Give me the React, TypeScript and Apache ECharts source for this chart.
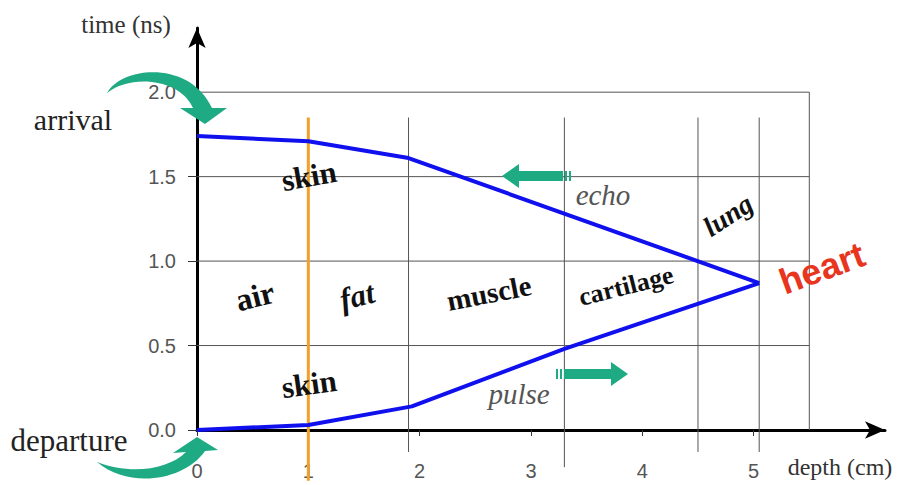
import React, { useEffect, useRef } from "react";
import * as echarts from "echarts";

// Axis ticks
const depthTicks = [0, 1, 2, 3, 4, 5];
const timeTicks = [0, 0.5, 1.0, 1.5, 2.0];

// Tissue boundaries (cm) drawn as vertical rules, and the right edge of the box
const layerBounds = [1.9, 3.3, 4.5, 5.05];
const boxEdge = 5.5;
const skinDepth = 1;

// Round trip of the ultrasound pulse: outgoing pulse and returning echo
const pulseDepth = [0, 1, 1.93, 3.3, 5.05];
const pulseTime = [0, 0.03, 0.14, 0.48, 0.87];
const echoDepth = [0, 1, 1.9, 5.05];
const echoTime = [1.74, 1.71, 1.61, 0.87];

const SERIF = "Liberation Serif";
const SANS = "Liberation Sans";
const GREEN = "#1eaa82";

echarts.graphic.registerShape(
  "arrivalArrow",
  echarts.graphic.extendPath(
    "M107 93 C122 66 190 60 212 108 L227 108 L205 124 L180 108 L193 108 C180 78 130 74 107 93 Z",
    {}
  )
);
echarts.graphic.registerShape(
  "departureArrow",
  echarts.graphic.extendPath(
    "M97 462 C130 490 185 480 205 451 L218 450 L197 437 L173 453 L186 452 C168 470 130 475 97 462 Z",
    {}
  )
);

const zip = (xs: number[], ys: number[]) => xs.map((x, i) => [x, ys[i]]);

function label(text: string, x: number, y: number, deg: number, style: any) {
  return {
    type: "text",
    x,
    y,
    rotation: (deg * Math.PI) / 180,
    z: 20,
    style: {
      text,
      fill: "#111",
      fontFamily: SERIF,
      fontSize: 24,
      fontWeight: "bold",
      textAlign: "center",
      textVerticalAlign: "middle",
      ...style,
    },
  };
}

export default function App() {
  const ref = useRef<HTMLDivElement>(null);

  useEffect(() => {
    if (!ref.current) return;
    const chart = echarts.init(ref.current, undefined, { renderer: "svg" });

    const staticGraphics: any[] = [
      label("time (ns)", 126, 24, 0, { fontSize: 25, fontWeight: "normal", fill: "#333" }),
      label("arrival", 73, 119, 0, { fontSize: 30, fontWeight: "normal", fill: "#222" }),
      label("departure", 69, 440, 0, { fontSize: 31, fontWeight: "normal", fill: "#222" }),
      label("depth (cm)", 840, 467, 0, { fontSize: 24, fontWeight: "normal", fill: "#333" }),
      { type: "arrivalArrow", x: 0, y: 0, z: 30, style: { fill: GREEN } },
      { type: "departureArrow", x: 0, y: 0, z: 30, style: { fill: GREEN } },
      // echo arrow, heading back toward the surface
      {
        type: "polygon",
        z: 25,
        shape: { points: [[502, 176], [519, 164], [519, 171], [563, 171], [563, 181], [519, 181], [519, 188]] },
        style: { fill: GREEN },
      },
      { type: "rect", z: 25, shape: { x: 565, y: 171, width: 2, height: 10 }, style: { fill: GREEN } },
      { type: "rect", z: 25, shape: { x: 569, y: 171, width: 2, height: 10 }, style: { fill: GREEN } },
      // pulse arrow, heading into the body
      {
        type: "polygon",
        z: 25,
        shape: { points: [[628, 374], [611, 362], [611, 369], [564, 369], [564, 379], [611, 379], [611, 386]] },
        style: { fill: GREEN },
      },
      { type: "rect", z: 25, shape: { x: 556, y: 369, width: 2, height: 10 }, style: { fill: GREEN } },
      { type: "rect", z: 25, shape: { x: 560, y: 369, width: 2, height: 10 }, style: { fill: GREEN } },
      label("echo", 603, 195, 0, { fontSize: 29, fontWeight: "normal", fontStyle: "italic", fill: "#555" }),
      label("pulse", 519, 394, 0, { fontSize: 29, fontWeight: "normal", fontStyle: "italic", fill: "#555" }),
      label("skin", 309, 176, 10, { fontSize: 31 }),
      label("skin", 309, 384, 8, { fontSize: 31 }),
      label("air", 255, 296, 14, { fontSize: 32 }),
      label("fat", 357, 296, 14, { fontSize: 31, fontStyle: "italic" }),
      label("muscle", 489, 293, 11, { fontSize: 29 }),
      label("cartilage", 626, 286, 14, { fontSize: 26 }),
      label("lung", 728, 215, 33, { fontSize: 28, fontStyle: "italic" }),
      label("heart", 822, 268, 20, {
        fontFamily: SANS,
        fontSize: 36,
        fill: "#e8351e",
        textShadowColor: "#a01a0a",
        textShadowOffsetX: 1,
        textShadowOffsetY: 1,
        textShadowBlur: 0,
      }),
    ];

    chart.setOption({
      animation: false,
      backgroundColor: "#ffffff",
      grid: { left: 197, right: 14, top: 28, bottom: 55 },
      xAxis: {
        type: "value",
        min: 0,
        max: 6.18,
        interval: 1,
        splitLine: { show: false },
        axisLine: {
          lineStyle: { color: "#000", width: 3 },
          symbol: ["none", "arrow"],
          symbolSize: [13, 20],
        },
        axisTick: { show: true, length: 6, lineStyle: { color: "#333" }, customValues: depthTicks },
        axisLabel: {
          customValues: depthTicks,
          margin: 31,
          color: "#555",
          fontFamily: SANS,
          fontSize: 20,
        },
      },
      yAxis: {
        type: "value",
        min: 0,
        max: 2.38,
        interval: 0.5,
        splitLine: { show: false },
        axisLine: {
          lineStyle: { color: "#000", width: 3 },
          symbol: ["none", "arrow"],
          symbolSize: [13, 20],
        },
        axisTick: { show: true, length: 9, lineStyle: { color: "#333" }, customValues: timeTicks },
        axisLabel: {
          customValues: timeTicks,
          margin: 21,
          color: "#555",
          fontFamily: SANS,
          fontSize: 20,
          formatter: (v: number) => v.toFixed(1),
        },
      },
      series: [
        {
          name: "echo",
          type: "line",
          data: zip(echoDepth, echoTime),
          showSymbol: false,
          lineStyle: { color: "#1010ee", width: 4 },
          z: 5,
        },
        {
          name: "pulse",
          type: "line",
          data: zip(pulseDepth, pulseTime),
          showSymbol: false,
          lineStyle: { color: "#1010ee", width: 4 },
          z: 5,
        },
      ],
      graphic: staticGraphics,
    });

    // Rules drawn through the axes' own scales; some run past the plot edges
    const px = (d: number, t: number) => chart.convertToPixel({ gridIndex: 0 }, [d, t]) as number[];
    const rule = (a: number[], b: number[], stroke: string, lineWidth: number) => ({
      type: "line",
      z: 1,
      shape: { x1: a[0], y1: a[1], x2: b[0], y2: b[1] },
      style: { stroke, lineWidth },
    });
    const rules: any[] = [];
    timeTicks.forEach((t) => {
      if (t > 0) rules.push(rule(px(0, t), px(boxEdge, t), "#555", 1));
    });
    rules.push(rule(px(boxEdge, 2.0), px(boxEdge, 0), "#555", 1));
    layerBounds.forEach((d) => {
      rules.push(rule(px(d, 1.85), px(d, d === 3.3 ? -0.22 : -0.13), "#555", 1));
    });
    rules.push({ ...rule(px(skinDepth, 1.85), px(skinDepth, -0.3), "#f2a02a", 3), z: 3 });

    chart.setOption({ graphic: [...staticGraphics, ...rules] });

    return () => chart.dispose();
  }, []);

  return (
    <div
      ref={ref}
      style={{ position: "fixed", left: 0, top: 0, width: 899, height: 485, background: "#fff" }}
    />
  );
}
